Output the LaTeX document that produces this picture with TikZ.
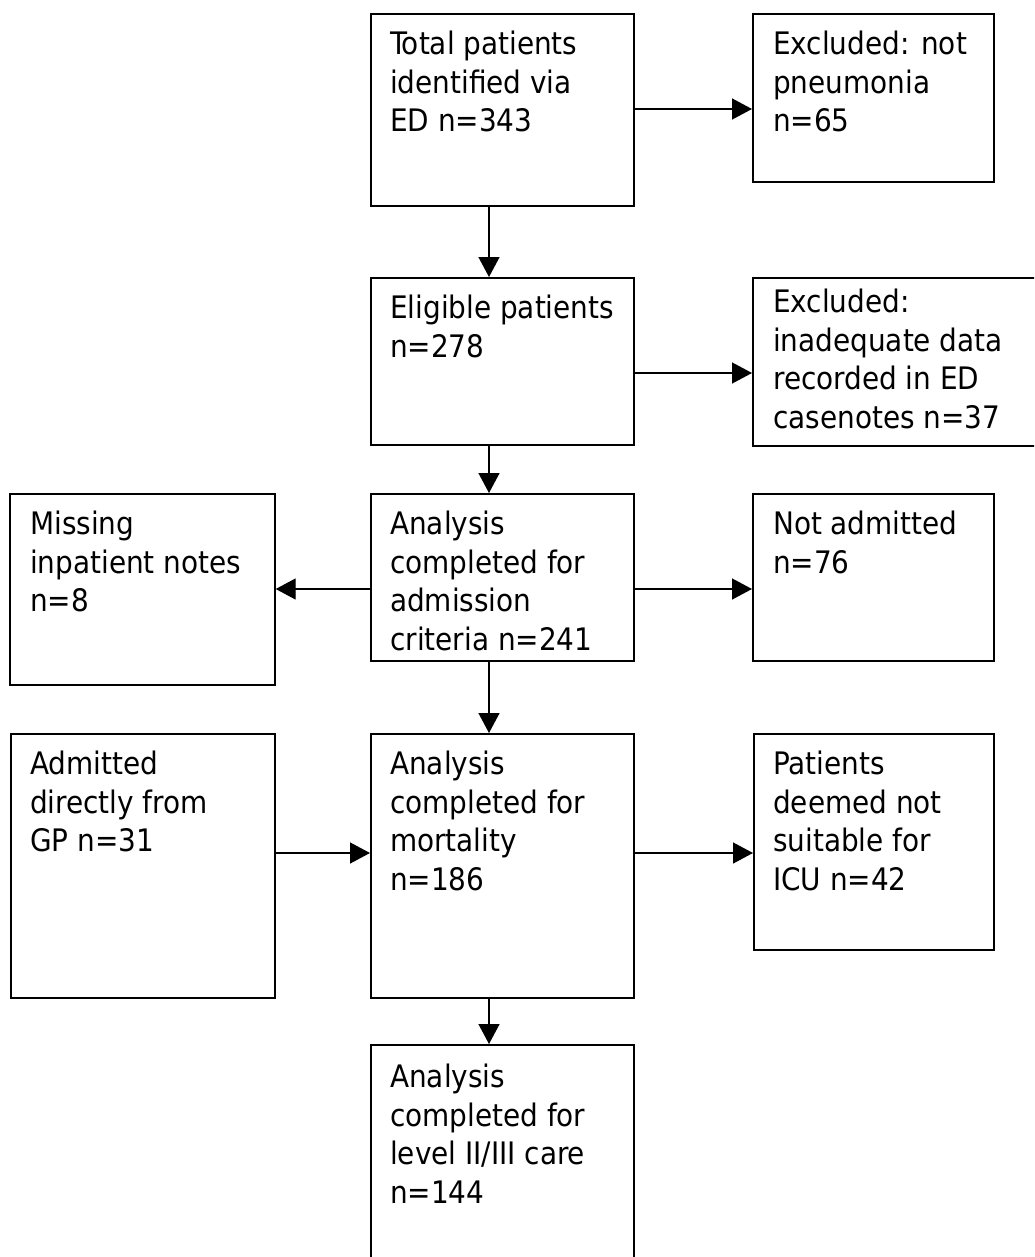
\documentclass[tikz,border=0pt]{standalone}
\usepackage{fontspec}
\setmainfont{DejaVu Sans Condensed}
\usetikzlibrary{arrows.meta, positioning}

\tikzset{
  box/.style={draw, line width=1.7pt, inner sep=0pt, anchor=north west},
  txt/.style={anchor=north west, align=left, inner sep=0pt, font=\fontsize{31}{38.5}\selectfont},
  arr/.style={line width=1.4pt, -{Triangle[length=20pt,width=21pt]}}
}

\begin{document}
\begin{tikzpicture}[x=1pt, y=-1pt]
    \useasboundingbox (0,0) rectangle (1034,1257);
    \clip (0,0) rectangle (1034,1257);

    % Top row
    \node[box, minimum width=263pt, minimum height=192pt] (total) at (370,13) {};
    \node[txt] (total-txt) at (390,31) {Total patients\\identified via\\ED n=343};

    \node[box, minimum width=241pt, minimum height=168pt] (notpneu) at (752,13) {};
    \node[txt] (notpneu-txt) at (773,31) {Excluded: not\\pneumonia\\n=65};

    % Eligible patients
    \node[box, minimum width=263pt, minimum height=167pt] (eligible) at (370,277) {};
    \node[txt] (eligible-txt) at (390,295) {Eligible patients\\n=278};

    \node[box, minimum width=290pt, minimum height=168pt] (inadequate) at (752,277) {};
    \node[txt] (inadequate-txt) at (773,289) {Excluded:\\inadequate data\\recorded in ED\\casenotes n=37};

    % Admission criteria
    \node[box, minimum width=265pt, minimum height=191pt] (missing) at (9,493) {};
    \node[txt] (missing-txt) at (30,511) {Missing\\inpatient notes\\n=8};

    \node[box, minimum width=263pt, minimum height=167pt] (admission) at (370,493) {};
    \node[txt] (admission-txt) at (390,511) {Analysis\\completed for\\admission\\criteria n=241};

    \node[box, minimum width=241pt, minimum height=167pt] (notadmitted) at (752,493) {};
    \node[txt] (notadmitted-txt) at (773,511) {Not admitted\\n=76};

    % Mortality
    \node[box, minimum width=264pt, minimum height=264pt] (gp) at (10,733) {};
    \node[txt] (gp-txt) at (30,751) {Admitted\\directly from\\GP n=31};

    \node[box, minimum width=263pt, minimum height=264pt] (mortality) at (370,733) {};
    \node[txt] (mortality-txt) at (390,751) {Analysis\\completed for\\mortality\\n=186};

    \node[box, minimum width=240pt, minimum height=216pt] (icu) at (753,733) {};
    \node[txt] (icu-txt) at (773,751) {Patients\\deemed not\\suitable for\\ICU n=42};

    % Level II/III care
    \node[box, minimum width=263pt, minimum height=230pt] (care) at (370,1044) {};
    \node[txt] (care-txt) at (390,1064) {Analysis\\completed for\\level II/III care\\n=144};

    % Arrows
    \draw[arr] (total.east |- 0,109) -- (notpneu.west |- 0,109);
    \draw[arr] (total.south -| 489,0) -- (eligible.north -| 489,0);
    \draw[arr] (eligible.east |- 0,373) -- (inadequate.west |- 0,373);
    \draw[arr] (eligible.south -| 489,0) -- (admission.north -| 489,0);
    \draw[arr] (admission.west |- 0,589) -- (missing.east |- 0,589);
    \draw[arr] (admission.east |- 0,589) -- (notadmitted.west |- 0,589);
    \draw[arr] (admission.south -| 489,0) -- (mortality.north -| 489,0);
    \draw[arr] (gp.east |- 0,853) -- (mortality.west |- 0,853);
    \draw[arr] (mortality.east |- 0,853) -- (icu.west |- 0,853);
    \draw[arr] (mortality.south -| 489,0) -- (care.north -| 489,0);

\end{tikzpicture}
\end{document}
